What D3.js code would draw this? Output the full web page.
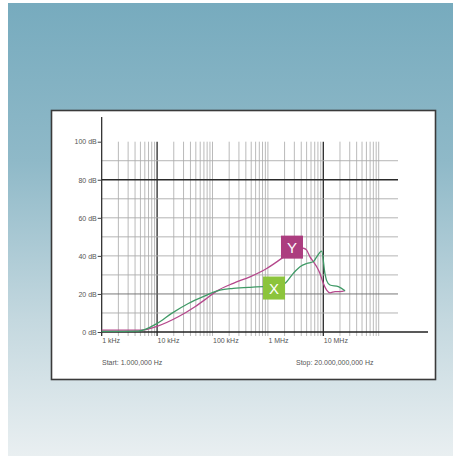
<!DOCTYPE html>
<html><head><meta charset="utf-8">
<script src="https://cdn.jsdelivr.net/npm/d3@7"></script>
<style>
html,body{margin:0;padding:0;background:#fff;}
svg{display:block;}
text{font-family:"Liberation Sans",Arial,sans-serif;}
</style></head>
<body>
<script>
// ---- data ----
const yTicks = [0, 20, 40, 60, 80, 100];
const yGrid = [10, 20, 30, 40, 50, 60, 70, 80, 90];
const xTicks = [1e3, 1e4, 1e5, 1e6, 1e7];
const xTickLabels = ["1 kHz", "10 kHz", "100 kHz", "1 MHz", "10 MHz"];
const seriesNames = ["X", "Y"];
const freqX = [1000, 4580, 10000, 18300, 36600, 73300, 119000, 136000, 237000, 475000, 826000, 1500000, 2040000, 2870000, 3800000, 5010000, 6590000, 7600000, 9350000, 10700000, 11500000, 13200000, 18700000, 24700000];
const dbX   = [0.3, 0.5, 4.5, 9.8, 15, 19, 21.5, 22, 22.9, 23.5, 23.8, 24, 25.6, 30.8, 34.3, 36, 36.9, 39.5, 42.5, 30.8, 27, 24.7, 23.8, 21.7];
const freqY = [1000, 5270, 10000, 24100, 48300, 73300, 119000, 237000, 475000, 951000, 1770000, 2500000, 4360000, 5010000, 5750000, 6590000, 7600000, 8710000, 10000000, 11500000, 13200000, 16300000, 20000000, 24700000];
const dbY   = [1, 1, 3, 8, 13.3, 17, 21.5, 25.6, 29, 33.4, 38.7, 42, 44, 43, 39.5, 37, 34.3, 30.8, 25.6, 22, 20.6, 21.2, 21.2, 21.7];
const labelFreq = [1290000, 2720000];
const labelDb = [23.1, 44.6];
const startText = "Start: 1.000,000 Hz";
const stopText = "Stop: 20.000,000,000 Hz";

// ---- drawing ----
const W = 453, H = 456;
const svg = d3.select("body").append("svg").attr("width", W).attr("height", H);
const defs = svg.append("defs");
const grad = defs.append("linearGradient").attr("id", "bg").attr("x1", 0).attr("y1", 0).attr("x2", 0).attr("y2", 1);
grad.append("stop").attr("offset", "0%").attr("stop-color", "#77abbe");
grad.append("stop").attr("offset", "35%").attr("stop-color", "#8fb9c8");
grad.append("stop").attr("offset", "70%").attr("stop-color", "#c4d8df");
grad.append("stop").attr("offset", "100%").attr("stop-color", "#e9eff1");
svg.append("rect").attr("x", 8).attr("y", 3).attr("width", W - 8).attr("height", H - 3).attr("fill", "url(#bg)");

// panel
svg.append("rect").attr("x", 51.5).attr("y", 110.5).attr("width", 384).attr("height", 269)
  .attr("fill", "#fff").attr("stroke", "#3a3a3a").attr("stroke-width", 1.6);

const x = d3.scaleLog().domain([1e3, 1e8]).range([101.7, 378.7]);
const y = d3.scaleLinear().domain([0, 100]).range([332, 141.7]);

const g = svg.append("g");
// vertical grid
const vGrid = [];
for (let dec = 1e3; dec < 1e8; dec *= 10) {
  for (let m = 1; m <= 9; m++) vGrid.push(dec * m);
}
vGrid.push(1e8);
g.selectAll("line.vg").data(vGrid.filter(d => d > 1e3)).enter().append("line")
  .attr("x1", d => x(d)).attr("x2", d => x(d))
  .attr("y1", y(100)).attr("y2", y(0) + 4)
  .attr("stroke", d => (d === 1e4 || d === 1e7) ? "#2a2a2a" : "#a8a8a8")
  .attr("stroke-width", d => (d === 1e4 || d === 1e7) ? 1.3 : 0.8);

// horizontal grid
g.selectAll("line.hg").data(yGrid).enter().append("line")
  .attr("x1", x(1e3)).attr("x2", 398)
  .attr("y1", d => y(d)).attr("y2", d => y(d))
  .attr("stroke", d => d === 80 ? "#2a2a2a" : (d === 20 ? "#6a6a6a" : "#ababab"))
  .attr("stroke-width", d => d === 80 ? 1.3 : 0.9);

// axes lines
g.append("line").attr("x1", x(1e3)).attr("x2", x(1e3)).attr("y1", 117).attr("y2", y(0) + 4)
  .attr("stroke", "#222").attr("stroke-width", 1.2);
g.append("line").attr("x1", x(1e3)).attr("x2", 428).attr("y1", y(0)).attr("y2", y(0))
  .attr("stroke", "#222").attr("stroke-width", 1.3);

// y axis ticks/labels
const yAxis = d3.axisLeft(y).tickValues(yTicks).tickSize(4).tickFormat(d => d + " dB");
const ya = svg.append("g").attr("transform", `translate(${x(1e3)},0)`).call(yAxis);
ya.select(".domain").remove();
ya.selectAll(".tick line").attr("stroke", "#444");
ya.selectAll(".tick text").attr("font-size", 7).attr("fill", "#555").attr("x", -5)
  .style("font-family", '"Liberation Sans",Arial,sans-serif');

// x axis labels
const xAxis = d3.axisBottom(x).tickValues(xTicks).tickSize(0).tickFormat((d, i) => xTickLabels[i]);
const xa = svg.append("g").attr("transform", `translate(0,${y(0)})`).call(xAxis);
xa.select(".domain").remove();
xa.selectAll(".tick text").attr("font-size", 7).attr("fill", "#555").attr("text-anchor", "start")
  .attr("y", 6).attr("dx", 0)
  .style("font-family", '"Liberation Sans",Arial,sans-serif');

// lines
const line = d3.line().x(d => x(d[0])).y(d => y(d[1])).curve(d3.curveMonotoneX);
const dataX = freqX.map((f, i) => [f, dbX[i]]);
const dataY = freqY.map((f, i) => [f, dbY[i]]);
svg.append("path").datum(dataY).attr("d", line).attr("fill", "none")
  .attr("stroke", "#b5488c").attr("stroke-width", 1.3);
svg.append("path").datum(dataX).attr("d", line).attr("fill", "none")
  .attr("stroke", "#3f9a66").attr("stroke-width", 1.3);

// labels
const labelColors = ["#8cc43c", "#ac3d7f"];
seriesNames.forEach((n, i) => {
  const cx = x(labelFreq[i]), cy = y(labelDb[i]);
  svg.append("rect").attr("x", cx - 11).attr("y", cy - 11.5).attr("width", 22).attr("height", 23)
    .attr("fill", labelColors[i]);
  svg.append("text").attr("x", cx).attr("y", cy + 5.5).attr("text-anchor", "middle")
    .attr("font-size", 15).attr("fill", "#fff").text(n);
});

// start / stop
svg.append("text").attr("x", 102).attr("y", 365).attr("font-size", 7).attr("fill", "#555").text(startText);
svg.append("text").attr("x", 296).attr("y", 365).attr("font-size", 7).attr("fill", "#555").text(stopText);
</script>
</body></html>
